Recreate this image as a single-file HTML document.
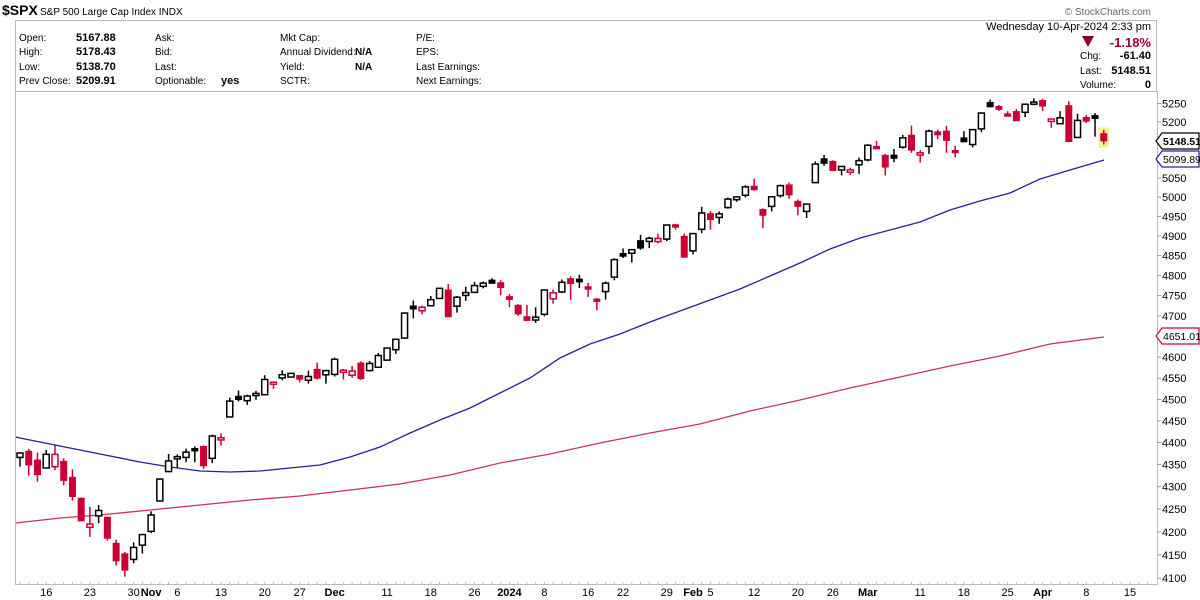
<!DOCTYPE html>
<html><head><meta charset="utf-8">
<style>
body{margin:0;background:#fff;width:1200px;height:600px;overflow:hidden;font-family:"Liberation Sans",Arial,sans-serif;}
svg{display:block}
</style></head><body>
<svg id="s" width="1200" height="600" xmlns="http://www.w3.org/2000/svg" font-family="Liberation Sans, Arial, sans-serif"></svg>
<script>
const D=[[4366,4378,4345,4376],[4380,4385,4325,4349],[4360,4377,4311,4327],[4342,4383,4342,4373],[4345,4393,4337,4372.9],[4357,4364,4303,4314],[4321,4339,4269,4278],[4274,4276,4223,4224],[4210,4255,4189,4217],[4235,4259,4219,4247],[4232,4233,4181,4186],[4175,4183,4127,4137],[4152,4156,4103,4117],[4140,4177,4132,4166],[4171,4194,4153,4194],[4201,4245,4197,4237],[4268,4319,4268,4317],[4334,4374,4334,4358],[4365,4373,4342,4365.5],[4366,4386,4355,4378],[4384,4391,4355,4383],[4391,4393,4340,4347],[4364,4418,4353,4415],[4406,4421,4393,4411],[4459,4504,4459,4496],[4505,4521,4495,4502],[4497,4511,4487,4508],[4509,4520,4499,4514],[4511,4557,4511,4547],[4538,4542,4525,4538],[4553,4569,4545,4556],[4555,4560,4552,4559],[4554,4555,4540,4550],[4545,4568,4537,4554],[4571,4587,4547,4550],[4558,4570,4537,4568],[4559,4599,4554,4595],[4564,4572,4547,4569],[4557,4579,4551,4567],[4586,4590,4546,4549],[4568,4591,4566,4585],[4576,4610,4575,4604],[4593,4623,4593,4622],[4618,4643,4608,4643],[4646,4709,4644,4707],[4722,4738,4694,4719.5],[4715,4725,4704,4719],[4725,4749,4725,4740],[4743,4768,4743,4768],[4764,4779,4698,4698],[4724,4749,4708,4746],[4753,4772,4737,4755],[4758,4784,4758,4775],[4773,4785,4768,4781],[4786,4793,4780,4783],[4782,4788,4751,4770],[4745,4754,4722,4743],[4726,4729,4700,4705],[4698,4727,4687,4689],[4690,4721,4683,4697],[4704,4765,4699,4764],[4742,4765,4730,4757],[4759,4790,4756,4783],[4792,4798,4739,4780],[4791,4802,4769,4784],[4772,4782,4747,4766],[4739,4744,4714,4738],[4760,4785,4740,4781],[4796,4843,4788,4840],[4853,4868,4844,4851],[4856,4866,4833,4865],[4888,4903,4865,4869],[4886,4898,4869,4894],[4888,4906,4881,4891],[4892,4929,4887,4928],[4926,4931,4916,4925],[4899,4906,4845,4846],[4862,4906,4853,4906],[4917,4975,4907,4959],[4957,4964,4916,4942],[4950,4963,4931,4954],[4973,4999,4970,4995],[4996,5000,4988,4998],[5005,5031,4999,5027],[5026,5048,5017,5022],[4968,4971,4920,4953],[4976,5003,4963,5001],[5004,5033,4999,5030],[5032,5038,4996,5006],[4989,4994,4953,4976],[4963,4983,4946,4982],[5038,5094,5038,5087],[5101,5111,5082,5089],[5094,5097,5068,5070],[5074,5080,5057,5078],[5068,5077,5058,5069],[5085,5104,5061,5096],[5098,5140,5094,5137],[5131,5149,5127,5130],[5110,5114,5057,5079],[5108,5127,5092,5105],[5132,5165,5128,5157],[5164,5190,5117,5124],[5111,5124,5091,5117],[5134,5179,5114,5175],[5173,5179,5153,5165],[5175,5189,5117,5150],[5123,5136,5105,5117],[5154,5175,5145,5149],[5139,5181,5131,5179],[5181,5226,5172,5224],[5253,5261,5240,5241],[5242,5246,5230,5234],[5219,5229,5216,5218],[5228,5235,5203,5203],[5226,5249,5213,5248],[5248,5264,5245,5254],[5258,5263,5229,5243],[5204,5208,5184,5205],[5195,5229,5194,5211],[5244,5256,5146,5147],[5158,5222,5157,5204],[5212,5219,5197,5202],[5217,5224,5160,5209],[5168,5178,5139,5149]];
const X=i=>20+i*8.74, Y=v=>103.5+1919.5*Math.log(5250/v);
const RED="#cc0033",BLK="#000";
let h='';
h+=`<text x="2" y="15" font-size="14" font-weight="bold">$SPX</text><text x="40" y="15" font-size="10">S&amp;P 500 Large Cap Index  INDX</text>`;
h+=`<text x="1151" y="15" font-size="10" fill="#666" text-anchor="end">© StockCharts.com</text>`;
h+=`<rect x="15.5" y="20.5" width="1141" height="71" fill="none" stroke="#bbb"/>`;
const rows=[41,55,70,84];
[["Open:","5167.88"],["High:","5178.43"],["Low:","5138.70"],["Prev Close:","5209.91"]].forEach((r,k)=>{h+=`<text x="19" y="${rows[k]}" font-size="10">${r[0]}</text><text x="76" y="${rows[k]}" font-size="11" font-weight="bold">${r[1]}</text>`});
["Ask:","Bid:","Last:","Optionable:"].forEach((t,k)=>h+=`<text x="155" y="${rows[k]}" font-size="10">${t}</text>`);
h+=`<text x="221" y="84" font-size="11" font-weight="bold">yes</text>`;
["Mkt Cap:","Annual Dividend:","Yield:","SCTR:"].forEach((t,k)=>h+=`<text x="280" y="${rows[k]}" font-size="10">${t}</text>`);
h+=`<text x="355" y="55" font-size="10" font-weight="bold">N/A</text><text x="355" y="70" font-size="10" font-weight="bold">N/A</text>`;
["P/E:","EPS:","Last Earnings:","Next Earnings:"].forEach((t,k)=>h+=`<text x="416" y="${rows[k]}" font-size="10">${t}</text>`);
h+=`<text x="1151" y="30" font-size="11" text-anchor="end">Wednesday  10-Apr-2024  2:33 pm</text>`;
h+=`<polygon points="1082,36 1094,36 1088,47" fill="#8b0022"/><text x="1151" y="47" font-size="13" font-weight="bold" fill="#a0002a" text-anchor="end">-1.18%</text>`;
h+=`<text x="1080" y="59" font-size="10">Chg:</text><text x="1151" y="59" font-size="11" font-weight="bold" text-anchor="end">-61.40</text>`;
h+=`<text x="1080" y="74" font-size="10">Last:</text><text x="1151" y="74" font-size="11" font-weight="bold" text-anchor="end">5148.51</text>`;
h+=`<text x="1080" y="88" font-size="10">Volume:</text><text x="1151" y="88" font-size="11" font-weight="bold" text-anchor="end">0</text>`;
h+=`<line x1="15.5" y1="91" x2="15.5" y2="584" stroke="#bbb"/><line x1="1157.5" y1="91" x2="1157.5" y2="584" stroke="#bbb"/><line x1="15" y1="584.5" x2="1158" y2="584.5" stroke="#bbb"/>`;
for(let i=-1;i<130;i++){const x=X(i);if(x>16&&x<1157)h+=`<line x1="${x}" y1="582" x2="${x}" y2="584" stroke="#bbb"/>`}
for(let v=4100;v<=5250;v+=50){if(v==5100||v==5150||v==4650)continue;const y=Y(v);h+=`<line x1="1157" y1="${y}" x2="1161" y2="${y}" stroke="#999"/><text x="1162" y="${y+4}" font-size="11">${v}</text>`}
const L=[[3,"16"],[8,"23"],[13,"30"],[15,"Nov",1],[18,"6"],[23,"13"],[28,"20"],[32,"27"],[36,"Dec",1],[42,"11"],[47,"18"],[52,"26"],[56,"2024",1],[60,"8"],[65,"16"],[69,"22"],[74,"29"],[77,"Feb",1],[79,"5"],[84,"12"],[89,"20"],[93,"26"],[97,"Mar",1],[103,"11"],[108,"18"],[113,"25"],[117,"Apr",1],[122,"8"],[127,"15"]];
L.forEach(l=>h+=`<text x="${X(l[0])}" y="596" font-size="11" text-anchor="middle"${l[2]?' font-weight="bold"':''}>${l[1]}</text>`);
const blue=[[16,437],[20,438],[60,446],[100,454],[140,462],[170,467],[200,471],[230,472],[260,471],[290,468],[320,465],[350,457],[380,447],[410,433],[440,420],[470,408],[500,393],[530,378],[560,358],[590,344],[620,334],[650,322],[680,311],[710,300],[740,289],[770,276],[800,263],[830,249],[860,238],[890,230],[920,222],[950,210],[980,201],[1010,193],[1040,179],[1070,170],[1104,160]];
const red=[[16,523],[60,518],[100,515],[150,510],[200,505],[250,500],[300,496],[350,490],[400,484],[450,475],[500,463],[550,454],[600,443],[650,433],[700,424],[750,411],[800,400],[850,388],[900,377],[950,366],[1000,356],[1050,344],[1104,337]];
h+=`<polyline points="${red.join(' ')}" fill="none" stroke="#cc3355" stroke-width="1.3"/>`;
h+=`<polyline points="${blue.join(' ')}" fill="none" stroke="#22229a" stroke-width="1.3"/>`;
h+=`<rect x="${X(124)-5}" y="${Y(5180)-2}" width="10" height="${Y(5136)-Y(5180)+4}" fill="#f5f08a"/>`;
D.forEach((d,i)=>{const[o,hi,lo,c]=d;const pc=i?D[i-1][3]:o;const col=c<pc?RED:BLK;const x=X(i);
 h+=`<line x1="${x}" y1="${Y(hi)}" x2="${x}" y2="${Y(lo)}" stroke="${col}" stroke-width="1.5"/>`;
 let t=Y(Math.max(o,c)),b=Y(Math.min(o,c));if(b-t<2){t-=1;b+=1;}
 if(c>=o)h+=`<rect x="${x-3}" y="${t}" width="6" height="${b-t}" fill="#fff" stroke="${col}" stroke-width="1.5"/>`;
 else h+=`<rect x="${x-3.5}" y="${t-0.5}" width="7" height="${b-t+1}" fill="${col}"/>`;
});
function tag(y,txt,col){h+=`<polygon points="1156,${y} 1162,${y-8} 1199,${y-8} 1199,${y+8} 1162,${y+8}" fill="#fff" stroke="${col}" stroke-width="1.2"/><text x="1163" y="${y+4}" font-size="10.5" ${col=='#000'?'font-weight="bold"':''}>${txt}</text>`}
tag(141,"5148.51","#000");tag(159,"5099.89","#22229a");tag(336,"4651.01","#cc0033");
document.getElementById('s').innerHTML=h;
</script>
</body></html>
